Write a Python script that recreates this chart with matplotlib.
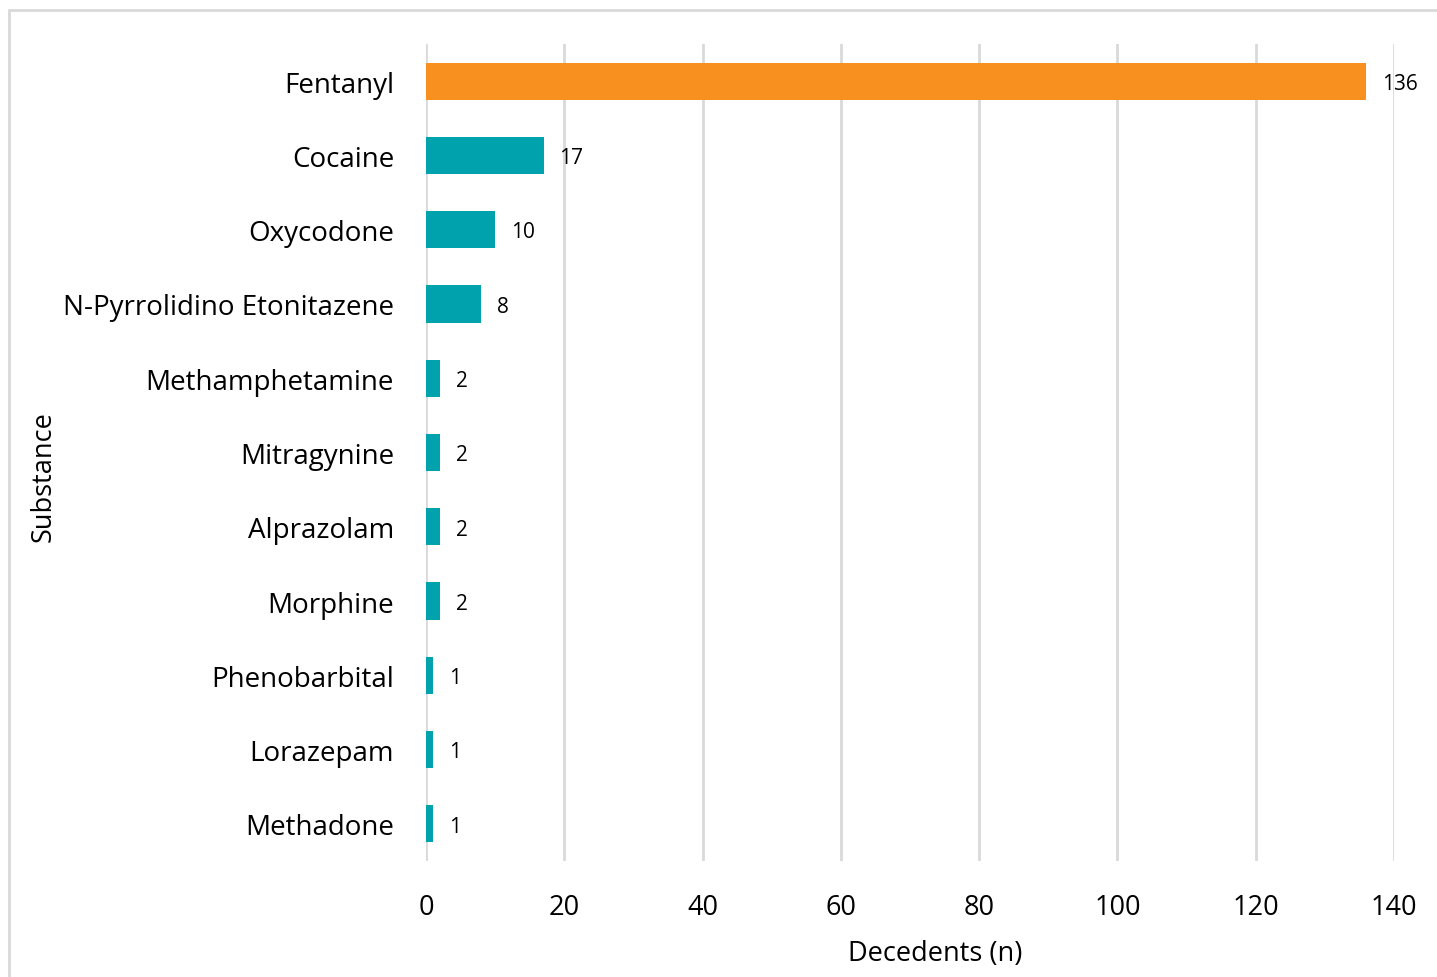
import matplotlib.pyplot as plt
from matplotlib.patches import Rectangle

substances = ["Fentanyl", "Cocaine", "Oxycodone", "N-Pyrrolidino Etonitazene",
              "Methamphetamine", "Mitragynine", "Alprazolam", "Morphine",
              "Phenobarbital", "Lorazepam", "Methadone"]
decedents = [136, 17, 10, 8, 2, 2, 2, 2, 1, 1, 1]
x_ticks = [0, 20, 40, 60, 80, 100, 120, 140]

orange = "#F7901E"
teal = "#00A3AD"

plt.rcParams["font.family"] = ["Open Sans", "DejaVu Sans"]

W, H = 1437, 978
fig = plt.figure(figsize=(W / 100, H / 100), dpi=100)
ax = fig.add_axes([426 / W, 1 - 862 / H, (1394 - 426) / W, (862 - 45) / H])

# outer frame (clipped on the right and bottom like the source)
fig.patches.append(Rectangle((9 / W, -0.1), 1.2, 1 - 11 / H + 0.1,
                             transform=fig.transFigure, fill=False,
                             edgecolor="#D9D9D9", linewidth=2))

ypos = list(range(len(substances)))
colors = [orange] + [teal] * (len(substances) - 1)
ax.barh(ypos, decedents, height=0.5, color=colors, zorder=3)

for y, v in zip(ypos, decedents):
    ax.text(v + 2.3, y + 0.03, str(v), va="center", ha="left", fontsize=15, zorder=4)

ax.set_xlim(0, 140)
ax.set_ylim(len(substances) - 0.5, -0.5)
ax.set_xticks(x_ticks)
ax.set_xticklabels([str(t) for t in x_ticks], fontsize=19.5)
ax.set_yticks(ypos)
ax.set_yticklabels(substances, fontsize=20, va="center_baseline")
ax.tick_params(axis="both", length=0)
ax.tick_params(axis="x", pad=23)
ax.tick_params(axis="y", pad=23)
ax.grid(axis="x", color="#D9D9D9", linewidth=2, zorder=0)
for s in ax.spines.values():
    s.set_visible(False)

ax.set_xlabel("Decedents (n)", fontsize=19.5)
ax.xaxis.set_label_coords((935 - 426) / (1394 - 426), -(940 - 862) / (862 - 45))
ax.set_ylabel("Substance", fontsize=19.5)
ax.yaxis.set_label_coords(-(426 - 58) / (1394 - 426), 1 - (477 - 45) / (862 - 45))

fig.savefig("out.png", dpi=100)
